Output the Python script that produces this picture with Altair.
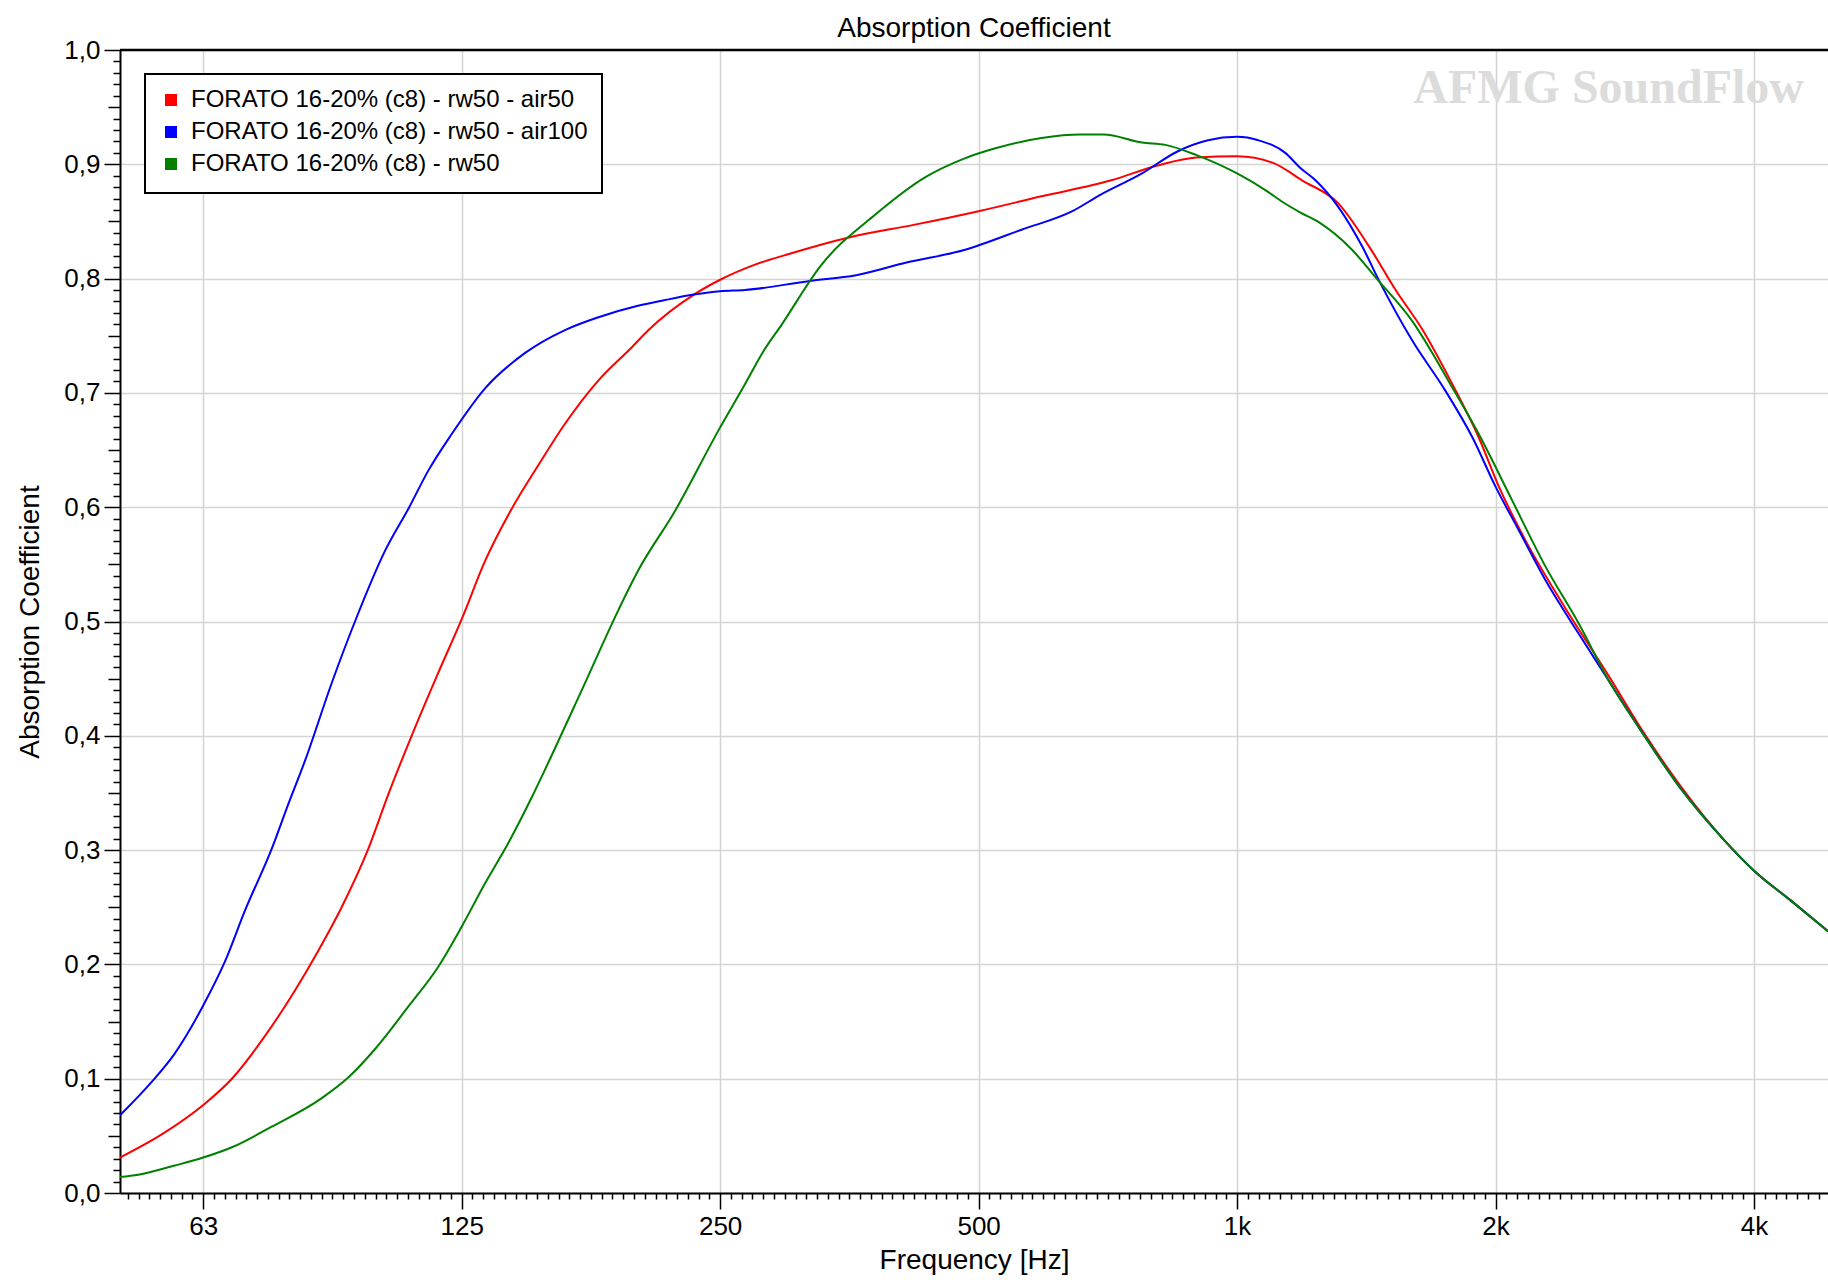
import json
import altair as alt
import pandas as pd

# ---------------- data ----------------
SERIES = [
    "FORATO 16-20% (c8) - rw50 - air50",
    "FORATO 16-20% (c8) - rw50 - air100",
    "FORATO 16-20% (c8) - rw50",
]
COLORS = ["#ff0000", "#0000ff", "#008000"]

FREQ_AIR50 = [50, 56.4, 62.5, 67.5, 73.7, 79.9, 85.1, 90.6, 97.3, 102.7,
              109.3, 116.9, 125, 133.1, 142.8, 153.9, 164.9, 180.4, 197.3, 206.3,
              233, 250, 274, 302, 353, 420, 500, 592, 714, 808,
              897, 1000, 1103, 1190, 1311, 1425, 1530, 1645, 1780, 1912,
              2018, 2167, 2392, 2711, 2951, 3285, 3690, 4000, 4413, 4878]
ALPHA_AIR50 = [0.031, 0.053, 0.077, 0.100, 0.137, 0.177, 0.212, 0.250, 0.301, 0.349,
               0.400, 0.452, 0.502, 0.553, 0.598, 0.638, 0.673, 0.711, 0.740, 0.755,
               0.786, 0.799, 0.812, 0.822, 0.836, 0.847, 0.859, 0.872, 0.886, 0.899,
               0.906, 0.907, 0.901, 0.886, 0.866, 0.828, 0.790, 0.755, 0.708, 0.661,
               0.618, 0.571, 0.516, 0.452, 0.407, 0.356, 0.309, 0.282, 0.256, 0.229]

FREQ_AIR100 = [50, 54.4, 57.9, 62.5, 66.3, 69.9, 75.1, 78.5, 82.1,
               88.2, 94.7, 101.5, 108.6, 114.3, 121.7, 133.1, 148.2, 164.9,
               180, 200, 215, 233, 250, 267,
               318, 360, 412, 481, 562, 643, 692,
               775, 851, 925, 1000, 1059, 1138, 1184,
               1234, 1311, 1399, 1464, 1599, 1748, 1880,
               2000, 2128, 2287, 2501, 2711,
               2951, 3285, 3690, 4000, 4413, 4878]
ALPHA_AIR100 = [0.068, 0.097, 0.122, 0.164, 0.203, 0.247, 0.301, 0.340, 0.378,
                0.446, 0.507, 0.560, 0.600, 0.632, 0.664, 0.704, 0.735, 0.755,
                0.766, 0.776, 0.781, 0.786, 0.789, 0.790,
                0.798, 0.803, 0.814, 0.825, 0.843, 0.859, 0.873,
                0.892, 0.911, 0.921, 0.924, 0.921, 0.910, 0.897,
                0.886, 0.863, 0.828, 0.798, 0.746, 0.702, 0.661,
                0.618, 0.580, 0.536, 0.489, 0.448,
                0.405, 0.354, 0.309, 0.282, 0.256, 0.229]

FREQ_RW50 = [50, 52.5, 57.9, 62.5, 67.5, 75.1, 85.9, 92.2, 99.1, 108.3,
             117.4, 125, 133.1, 141.6, 150.8, 156.2, 172.5, 190.3, 200.8, 221.6,
             248.8, 267.4, 280, 295, 328, 379, 434, 481, 523, 592,
             657, 699, 775, 825, 897, 1000, 1081, 1130, 1184, 1241,
             1362, 1450, 1599, 1780, 1912, 2091, 2287, 2501, 2711, 2951,
             3285, 3690, 4000, 4413, 4878]
ALPHA_RW50 = [0.014, 0.016, 0.024, 0.031, 0.040, 0.058, 0.083, 0.101, 0.126, 0.163,
              0.198, 0.233, 0.271, 0.306, 0.346, 0.370, 0.440, 0.510, 0.545, 0.597,
              0.667, 0.708, 0.735, 0.760, 0.812, 0.856, 0.889, 0.905, 0.914, 0.923,
              0.926, 0.926, 0.919, 0.917, 0.908, 0.892, 0.877, 0.867, 0.858, 0.850,
              0.825, 0.801, 0.763, 0.705, 0.664, 0.606, 0.548, 0.498, 0.448, 0.405,
              0.354, 0.309, 0.282, 0.256, 0.229]

X_MAJOR = [62.5, 125, 250, 500, 1000, 2000, 4000]
X_LABELS = ["63", "125", "250", "500", "1k", "2k", "4k"]
X_DOMAIN = [50, 4878]
Y_DOMAIN = [0, 1]

# ---------------- table ----------------
rows = []
for name, fr, al in zip(SERIES, [FREQ_AIR50, FREQ_AIR100, FREQ_RW50],
                        [ALPHA_AIR50, ALPHA_AIR100, ALPHA_RW50]):
    for f, a in zip(fr, al):
        rows.append({"series": name, "freq": f, "alpha": a})
df = pd.DataFrame(rows)

# tick positions: 1/24-octave minor ticks on x, 0.01 minor ticks on y
x_ticks = [1000 * 2 ** (k / 24) for k in range(-103, 55)]
x_ticks = [v for v in x_ticks if X_DOMAIN[0] <= v <= X_DOMAIN[1]]
y_ticks = [round(i / 100, 2) for i in range(101)]

x_major_test = "indexof(%s, datum.value) >= 0" % json.dumps(X_MAJOR)
x_label_expr = "''"
for v, lab in reversed(list(zip(X_MAJOR, X_LABELS))):
    x_label_expr = "datum.value == %s ? '%s' : (%s)" % (json.dumps(v), lab, x_label_expr)

y_major_test = "abs(datum.value*10 - round(datum.value*10)) < 1e-6"
y_mid_test = "abs(datum.value*20 - round(datum.value*20)) < 1e-6"

FONT = "Liberation Sans"

x_axis = alt.Axis(
    values=x_ticks,
    title="Frequency [Hz]",
    labelExpr=x_label_expr,
    labelOverlap=False,
    labelFlush=False,
    labelBound=False,
    labelPadding=4,
    titlePadding=7,
    tickSize={"condition": {"test": x_major_test, "value": 16}, "value": 6},
    gridOpacity={"condition": {"test": x_major_test, "value": 1}, "value": 0},
)
y_axis = alt.Axis(
    values=y_ticks,
    title="Absorption Coefficient",
    labelExpr="%s ? replace(format(datum.value, '.1f'), '.', ',') : ''" % y_major_test,
    labelOverlap=False,
    labelFlush=False,
    labelBound=False,
    labelPadding=4,
    titlePadding=19,
    tickSize={"condition": [{"test": y_major_test, "value": 16},
                            {"test": y_mid_test, "value": 12}], "value": 7},
    gridOpacity={"condition": {"test": y_major_test, "value": 1}, "value": 0},
)

lines = alt.Chart(df).mark_line(strokeWidth=2, clip=True, interpolate="monotone").encode(
    x=alt.X("freq:Q", scale=alt.Scale(type="log", domain=X_DOMAIN, nice=False), axis=x_axis),
    y=alt.Y("alpha:Q", scale=alt.Scale(domain=Y_DOMAIN, nice=False, zero=False), axis=y_axis),
    color=alt.Color(
        "series:N",
        scale=alt.Scale(domain=SERIES, range=COLORS),
        legend=alt.Legend(
            title=None, orient="none", legendX=25, legendY=24,
            labelFont=FONT, labelFontSize=24, labelColor="black", labelLimit=800,
            labelExpr="datum.label + '\u2003\u2003\u2003'",
            symbolType="square", symbolSize=36, symbolStrokeWidth=6,
            symbolOffset=0, labelOffset=8,
            strokeColor="black", fillColor="white", padding=14, rowPadding=2,
        ),
    ),
    order=alt.Order("freq:Q"),
)

topline = alt.Chart(pd.DataFrame({"k": [0]})).mark_rule(color="black", strokeWidth=2.5).encode(
    y=alt.value(0)
)

watermark = alt.Chart(pd.DataFrame({"t": ["AFMG SoundFlow"]})).mark_text(
    font="Liberation Serif", fontSize=48, fontWeight="bold", color="#dcdcdc",
    align="right", baseline="alphabetic",
).encode(text="t:N", x=alt.value(1684), y=alt.value(53))

chart = alt.layer(watermark, lines, topline).properties(
    width=1708,
    height=1143,
    autosize=alt.AutoSizeParams(type="none"),
    padding={"left": 120, "top": 50, "right": 0, "bottom": 87},
    title=alt.Title("Absorption Coefficient", font=FONT, fontSize=28, fontWeight="normal",
                    color="black", offset=-6, anchor="middle", frame="group"),
).configure_view(stroke=None).configure_axis(
    domainColor="black", domainWidth=2,
    tickColor="black", tickWidth=1.5,
    gridColor="#d4d4d4", gridWidth=1.5,
    labelFont=FONT, labelFontSize=26, labelColor="black",
    titleFont=FONT, titleFontSize=28, titleFontWeight="normal", titleColor="black",
).configure_legend(strokeWidth=2)

chart.save("out.html", embed_options={"renderer": "svg", "actions": False})
